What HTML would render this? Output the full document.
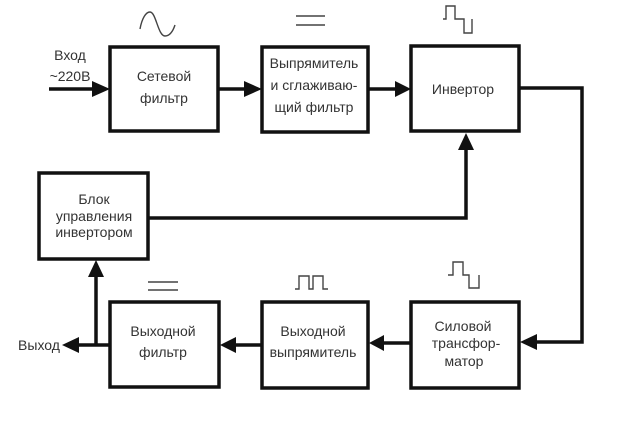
<!DOCTYPE html>
<html><head><meta charset="utf-8"><style>
html,body{margin:0;padding:0;background:#fff;}
svg{display:block;}
text{font-family:"Liberation Sans","DejaVu Sans",sans-serif;font-size:14px;fill:#333;}
</style></head><body>
<svg width="640" height="430" viewBox="0 0 640 430" xmlns="http://www.w3.org/2000/svg">
<rect width="640" height="430" fill="#fff"/>
<g fill="none" stroke="#111" stroke-width="3.5">
<rect x="110" y="47" width="108" height="84"/>
<rect x="262" y="47" width="106" height="85"/>
<rect x="411" y="46" width="108" height="85"/>
<rect x="39" y="173" width="109" height="86"/>
<rect x="110" y="302" width="109" height="85"/>
<rect x="262" y="302" width="106" height="86"/>
<rect x="411" y="302" width="108" height="86"/>
<!-- connectors -->
<line x1="49" y1="89" x2="95" y2="89"/>
<line x1="218" y1="89" x2="246" y2="89"/>
<line x1="368" y1="89" x2="397" y2="89"/>
<polyline points="519,88 582,88 582,342 535,342"/>
<polyline points="148,218 466,218 466,148"/>
<line x1="411" y1="343" x2="383" y2="343"/>
<line x1="262" y1="345" x2="234" y2="345"/>
<line x1="110" y1="345" x2="78" y2="345"/>
<line x1="96" y1="345" x2="96" y2="275"/>
</g>
<g fill="#111">
<polygon points="110,89 92,81 92,97"/>
<polygon points="262,89 244,81 244,97"/>
<polygon points="411,89 395,81 395,97"/>
<polygon points="466,133 458,150 474,150"/>
<polygon points="520,342 537,334 537,350"/>
<polygon points="369,343 384,335 384,351"/>
<polygon points="220,345 236,337 236,353"/>
<polygon points="62,345 79,337 79,353"/>
<polygon points="96,260 88,277 104,277"/>
</g>
<!-- waveforms -->
<g fill="none" stroke="#444" stroke-width="1.4">
<path d="M140,29 C142,18 146,12 150,12 C156,12 158,36 165,36 C170,36 173,31 175,25"/>
<line x1="296" y1="16" x2="325" y2="16"/>
<line x1="296" y1="25" x2="325" y2="25"/>
<polyline points="443,19 446,19 446,6 455,6 455,19 464,19 464,33 472,33 472,19"/>
<polyline points="448,275 453,275 453,262 463,262 463,275 469,275 469,288 479,288 479,275"/>
<polyline points="295,289 299,289 299,276 309,276 309,289 313,289 313,276 323,276 323,289 328,289"/>
<line x1="148" y1="282" x2="178" y2="282"/>
<line x1="148" y1="290" x2="178" y2="290"/>
</g>
<!-- labels -->
<text x="70" y="60" text-anchor="middle">Вход</text>
<text x="70" y="81" text-anchor="middle">~220В</text>
<text x="164" y="81" text-anchor="middle">Сетевой</text>
<text x="164" y="103" text-anchor="middle">фильтр</text>
<text x="314" y="68" text-anchor="middle">Выпрямитель</text>
<text x="314" y="90" text-anchor="middle">и сглаживаю-</text>
<text x="314" y="112" text-anchor="middle">щий фильтр</text>
<text x="463" y="94" text-anchor="middle">Инвертор</text>
<text x="94" y="204" text-anchor="middle">Блок</text>
<text x="94" y="221" text-anchor="middle">управления</text>
<text x="94" y="237" text-anchor="middle">инвертором</text>
<text x="163" y="336" text-anchor="middle">Выходной</text>
<text x="163" y="357" text-anchor="middle">фильтр</text>
<text x="313" y="336" text-anchor="middle">Выходной</text>
<text x="313" y="357" text-anchor="middle">выпрямитель</text>
<text x="463" y="331" text-anchor="middle">Силовой</text>
<text x="466" y="348" text-anchor="middle">трансфор-</text>
<text x="464" y="366" text-anchor="middle">матор</text>
<text x="39" y="350" text-anchor="middle">Выход</text>
</svg>
</body></html>
